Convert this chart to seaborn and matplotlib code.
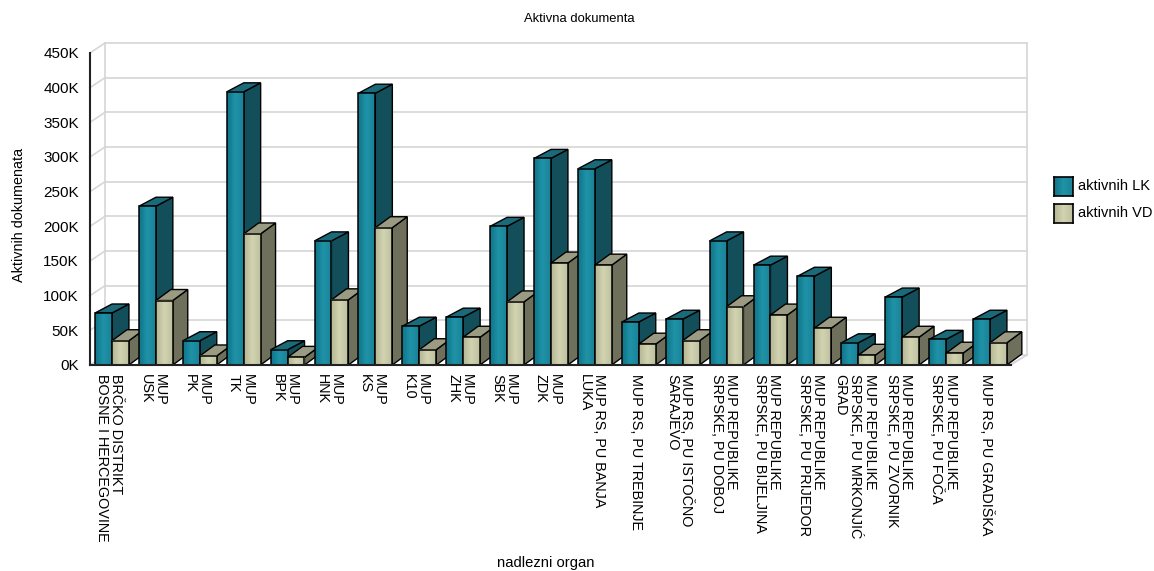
import numpy as np
import pandas as pd
import matplotlib
matplotlib.use("Agg")
import matplotlib.pyplot as plt
from matplotlib.colors import LinearSegmentedColormap
from matplotlib.lines import Line2D
from matplotlib.patches import Polygon
from matplotlib.transforms import offset_copy
import seaborn as sns

categories = [
    "BRČKO DISTRIKT\nBOSNE I HERCEGOVINE", "MUP\nUSK", "MUP\nPK", "MUP\nTK", "MUP\nBPK",
    "MUP\nHNK", "MUP\nKS", "MUP\nK10", "MUP\nZHK", "MUP\nSBK", "MUP\nZDK",
    "MUP RS, PU BANJA\nLUKA", "MUP RS, PU TREBINJE", "MUP RS, PU ISTOČNO\nSARAJEVO",
    "MUP REPUBLIKE\nSRPSKE, PU DOBOJ", "MUP REPUBLIKE\nSRPSKE, PU BIJELJINA",
    "MUP REPUBLIKE\nSRPSKE, PU PRIJEDOR", "MUP REPUBLIKE\nSRPSKE, PU MRKONJIĆ\nGRAD",
    "MUP REPUBLIKE\nSRPSKE, PU ZVORNIK", "MUP REPUBLIKE\nSRPSKE, PU FOČA", "MUP RS, PU GRADIŠKA",
]
aktivnih_lk = [75, 229, 35, 394, 22, 179, 392, 56, 69, 200, 298, 283, 62, 66, 179, 144, 128, 32, 98, 37, 66]
aktivnih_vd = [35, 93, 13, 189, 11, 94, 198, 22, 40, 91, 147, 144, 30, 35, 84, 72, 53, 14, 40, 17, 32]
y_ticks = list(range(0, 451, 50))

W, H = 1154, 571
DPI = 100
FRONT = {
    "aktivnih LK": ["#107488", "#1f93a8", "#1a8297"],
    "aktivnih VD": ["#b5b794", "#d2d4b1", "#bfc19e"],
}
SIDE = {"aktivnih LK": "#134f5a", "aktivnih VD": "#6f705c"}
TOP = {"aktivnih LK": "#1a6a7a", "aktivnih VD": "#9a9b82"}
DEPTH = {"aktivnih LK": (17, 9), "aktivnih VD": (15, 11)}


def px_axes(fig, left, top, right, bottom):
    return fig.add_axes([left / W, 1 - bottom / H, (right - left) / W, (bottom - top) / H])


def main():
    plt.rcParams["font.family"] = ["Liberation Sans", "DejaVu Sans"]
    df = pd.DataFrame({"organ": categories, "aktivnih LK": aktivnih_lk, "aktivnih VD": aktivnih_vd})
    long_df = df.melt(id_vars="organ", var_name="serija", value_name="vrijednost")

    fig = plt.figure(figsize=(W / DPI, H / DPI), dpi=DPI)
    ax = px_axes(fig, 90, 53, 1011, 365)

    sns.barplot(data=long_df, x="organ", y="vrijednost", hue="serija", hue_order=list(FRONT),
                width=0.77, gap=0, legend=False, ax=ax, edgecolor="black", linewidth=1.1)
    ax.set_xlim(-0.5, 20.48)
    ax.set_ylim(0, 450)
    ax.patch.set_visible(False)
    sns.despine(ax=ax, top=True, right=True, left=True, bottom=True)

    # back wall, sits behind the bars
    back = offset_copy(ax.transAxes, fig=fig, x=15, y=10, units="dots")
    grey = "#d6d6d6"
    x_right = 1 + 1 / 921  # wall ends one pixel further right
    for val in y_ticks:
        yf = val / 450
        ax.add_line(Line2D([0, x_right], [yf, yf], transform=back, color=grey, lw=1.2, clip_on=False, zorder=1))
        x0, y0 = ax.transAxes.transform((0, yf))
        ax.add_line(Line2D([x0, x0 + 15], [y0, y0 + 10], transform=None, color=grey, lw=1.2, clip_on=False, zorder=1))
    for xf in (0, x_right):
        ax.add_line(Line2D([xf, xf], [0, 1], transform=back, color=grey, lw=1.2, clip_on=False, zorder=1))
    x1, y1 = ax.transAxes.transform((1, 0))
    for shift in (0, 2):
        ax.add_line(Line2D([x1 - shift, x1 + 16], [y1, y1 + 10], transform=None, color=grey, lw=1, clip_on=False, zorder=1))

    # seaborn gives one container per hue; draw left to right so the next bar covers the last side
    for s, (name, container) in enumerate(zip(FRONT, ax.containers)):
        cmap = LinearSegmentedColormap.from_list(name, FRONT[name])
        dx, dy = DEPTH[name]
        for i, bar in enumerate(container.patches):
            base = 10 + i * 10 + s * 4
            pts = ax.transData.transform(bar.get_corners())
            (xa, ya), (xb, _), (_, yt) = pts[0], pts[1], pts[2]
            side = [(xb, ya), (xb + dx, ya + dy), (xb + dx, yt + dy), (xb, yt)]
            roof = [(xa, yt), (xb, yt), (xb + dx, yt + dy), (xa + dx, yt + dy)]
            for poly, col in ((side, SIDE[name]), (roof, TOP[name])):
                ax.add_patch(Polygon(poly, closed=True, transform=None, facecolor=col, edgecolor="black",
                                     linewidth=1.0, clip_on=False, zorder=base))
            bar.set_zorder(base + 2)
            bar.set_facecolor("none")
            im = ax.imshow(np.linspace(0, 1, 32).reshape(1, -1), cmap=cmap, aspect="auto", zorder=base + 1,
                           extent=(bar.get_x(), bar.get_x() + bar.get_width(), 0, bar.get_height()))
            im.set_clip_on(False)
    ax.set_xlim(-0.5, 20.48)
    ax.set_ylim(0, 450)

    # axis lines
    ax.add_line(Line2D([0, 0], [0, 1], transform=ax.transAxes, color="#222222", lw=1.5, clip_on=False, zorder=300))
    ax.add_line(Line2D([0, 1], [0, 0], transform=ax.transAxes, color="#222222", lw=1.5, clip_on=False, zorder=300))

    ax.set_yticks(y_ticks, [f"{v}K" for v in y_ticks], fontsize=11)
    ax.tick_params(axis="y", length=0, pad=8, labelcolor="black")
    ax.set_xticks(range(len(categories)), [])
    ax.tick_params(axis="x", length=0)
    for i, label in enumerate(categories):
        ax.annotate(label, xy=(i, 0), xycoords=("data", "axes fraction"), xytext=(-3, -9),
                    textcoords="offset pixels", rotation=-90, ha="center", va="top",
                    multialignment="left", fontsize=10.4, linespacing=1.0)
    ax.set_xlabel("")
    ax.set_ylabel("")

    fig.text(579 / W, 1 - 19 / H, "Aktivna dokumenta", ha="center", va="center", fontsize=9.4)
    fig.text(546 / W, 1 - 563 / H, "nadlezni organ", ha="center", va="center", fontsize=10.6)
    fig.text(19 / W, 1 - 215 / H, "Aktivnih dokumenata", rotation=90, ha="center", va="center", fontsize=10.4)

    # legend swatches keep the bar gradient
    for name, top in zip(FRONT, (177, 204)):
        sw = px_axes(fig, 1054, top, 1073, top + 19)
        sw.imshow(np.linspace(0, 1, 32).reshape(1, -1), aspect="auto",
                  cmap=LinearSegmentedColormap.from_list(name, FRONT[name]))
        sw.set_xticks([])
        sw.set_yticks([])
        for sp in sw.spines.values():
            sp.set_linewidth(1.2)
        fig.text(1078 / W, 1 - (top + 9.5) / H, name, ha="left", va="center", fontsize=10.5)

    fig.savefig("out.png", dpi=DPI)
    plt.close(fig)


if __name__ == "__main__":
    main()
